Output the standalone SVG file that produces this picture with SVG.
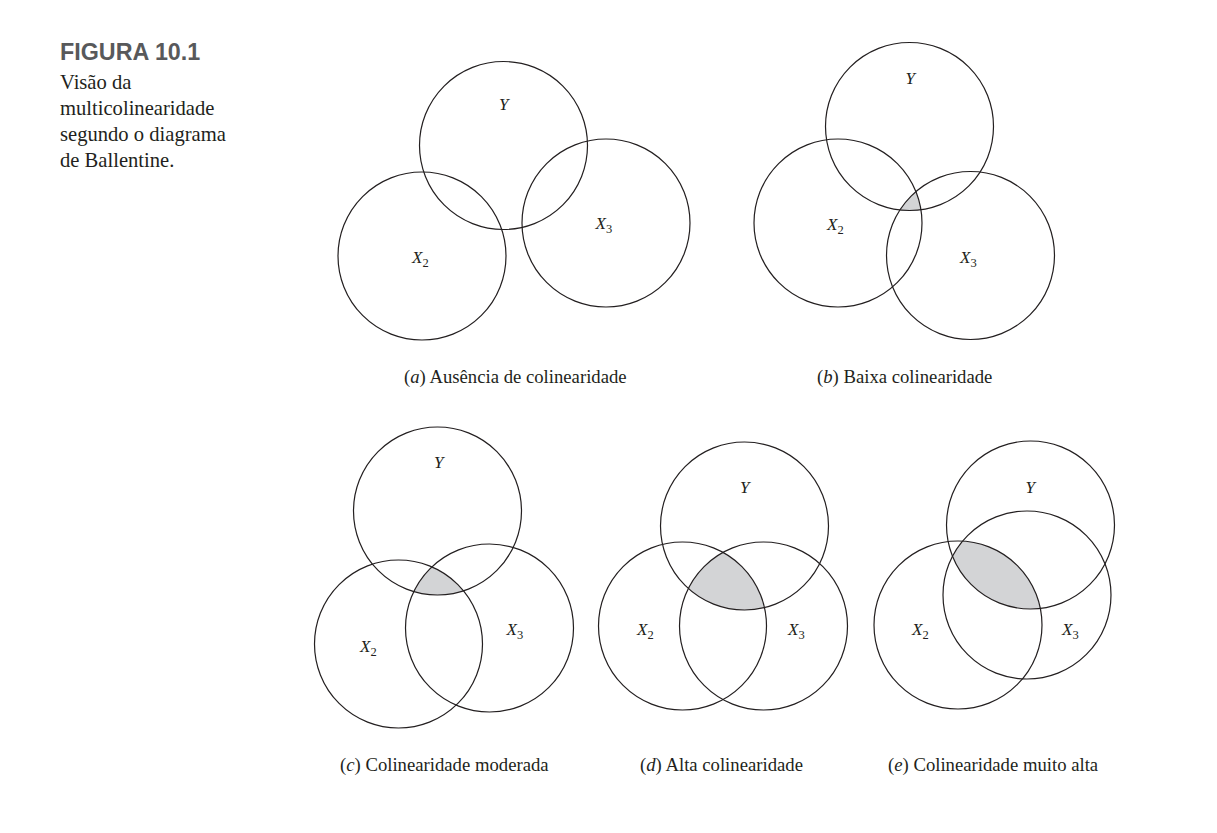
<svg xmlns="http://www.w3.org/2000/svg" width="1217" height="833" viewBox="0 0 1217 833">
<style>
.c{fill:none;stroke:#231f20;stroke-width:1.2}
.sh{fill:#d3d4d6;stroke:none}
.v{font-family:"Liberation Serif","Times New Roman",serif;font-style:italic;font-size:17px;fill:#231f20}
.s{font-style:normal;font-size:12.5px}
.cap{font-family:"Liberation Serif","Times New Roman",serif;font-size:18.7px;fill:#231f20}
.cap .i{font-style:italic}
.desc{font-family:"Liberation Serif","Times New Roman",serif;font-size:20.6px;fill:#231f20}
.title{font-family:"Liberation Sans",Arial,sans-serif;font-weight:bold;font-size:23.3px;fill:#58595b}
</style>
<defs>
<clipPath id="bY"><circle cx="909.5" cy="126.5" r="84"/></clipPath>
<clipPath id="bX3"><circle cx="970.5" cy="255.5" r="84"/></clipPath>
<clipPath id="cY"><circle cx="437.5" cy="511" r="84"/></clipPath>
<clipPath id="cX3"><circle cx="489.5" cy="628" r="84"/></clipPath>
<clipPath id="dY"><circle cx="744.5" cy="526" r="84"/></clipPath>
<clipPath id="dX3"><circle cx="763.5" cy="626" r="84"/></clipPath>
<clipPath id="eY"><circle cx="1030.5" cy="525" r="84"/></clipPath>
<clipPath id="eX3"><circle cx="1027" cy="595" r="84"/></clipPath>
</defs>
<rect width="1217" height="833" fill="#ffffff"/>

<g id="header">
<text class="title" x="60" y="60">FIGURA 10.1</text>
<text class="desc" x="60" y="89">Visão da</text>
<text class="desc" x="60" y="115">multicolinearidade</text>
<text class="desc" x="60" y="141">segundo o diagrama</text>
<text class="desc" x="60" y="167">de Ballentine.</text>
</g>

<g id="panel-a">
<g id="a-Y"><circle class="c" cx="503.5" cy="145.5" r="84"/><text class="v" x="499" y="110">Y</text></g>
<g id="a-X2"><circle class="c" cx="422" cy="256" r="84"/><text class="v" x="412" y="263">X<tspan class="s" dy="4">2</tspan></text></g>
<g id="a-X3"><circle class="c" cx="606" cy="223" r="84"/><text class="v" x="595.5" y="229">X<tspan class="s" dy="4">3</tspan></text></g>
<text class="cap" x="404" y="383">(<tspan class="i">a</tspan>) Ausência de colinearidade</text>
</g>

<g id="panel-b">
<g clip-path="url(#bY)"><circle class="sh" cx="838" cy="223" r="84" clip-path="url(#bX3)"/></g>
<g id="b-Y"><circle class="c" cx="909.5" cy="126.5" r="84"/><text class="v" x="905.5" y="84">Y</text></g>
<g id="b-X2"><circle class="c" cx="838" cy="223" r="84"/><text class="v" x="827" y="230">X<tspan class="s" dy="4">2</tspan></text></g>
<g id="b-X3"><circle class="c" cx="970.5" cy="255.5" r="84"/><text class="v" x="960" y="263">X<tspan class="s" dy="4">3</tspan></text></g>
<text class="cap" x="817" y="383">(<tspan class="i">b</tspan>) Baixa colinearidade</text>
</g>

<g id="panel-c">
<g clip-path="url(#cY)"><circle class="sh" cx="398.5" cy="644" r="84" clip-path="url(#cX3)"/></g>
<g id="c-Y"><circle class="c" cx="437.5" cy="511" r="84"/><text class="v" x="434" y="468">Y</text></g>
<g id="c-X2"><circle class="c" cx="398.5" cy="644" r="84"/><text class="v" x="360" y="651.5">X<tspan class="s" dy="4">2</tspan></text></g>
<g id="c-X3"><circle class="c" cx="489.5" cy="628" r="84"/><text class="v" x="506.5" y="635">X<tspan class="s" dy="4">3</tspan></text></g>
<text class="cap" x="340" y="771">(<tspan class="i">c</tspan>) Colinearidade moderada</text>
</g>

<g id="panel-d">
<g clip-path="url(#dY)"><circle class="sh" cx="682.5" cy="626" r="84" clip-path="url(#dX3)"/></g>
<g id="d-Y"><circle class="c" cx="744.5" cy="526" r="84"/><text class="v" x="740" y="493">Y</text></g>
<g id="d-X2"><circle class="c" cx="682.5" cy="626" r="84"/><text class="v" x="637" y="635">X<tspan class="s" dy="4">2</tspan></text></g>
<g id="d-X3"><circle class="c" cx="763.5" cy="626" r="84"/><text class="v" x="788" y="635">X<tspan class="s" dy="4">3</tspan></text></g>
<text class="cap" x="640" y="771">(<tspan class="i">d</tspan>) Alta colinearidade</text>
</g>

<g id="panel-e">
<g clip-path="url(#eY)"><circle class="sh" cx="958" cy="625" r="84" clip-path="url(#eX3)"/></g>
<g id="e-Y"><circle class="c" cx="1030.5" cy="525" r="84"/><text class="v" x="1025.5" y="493">Y</text></g>
<g id="e-X2"><circle class="c" cx="958" cy="625" r="84"/><text class="v" x="912" y="635">X<tspan class="s" dy="4">2</tspan></text></g>
<g id="e-X3"><circle class="c" cx="1027" cy="595" r="84"/><text class="v" x="1062" y="635">X<tspan class="s" dy="4">3</tspan></text></g>
<text class="cap" x="888" y="771">(<tspan class="i">e</tspan>) Colinearidade muito alta</text>
</g>

<g id="connectors"/>
</svg>
